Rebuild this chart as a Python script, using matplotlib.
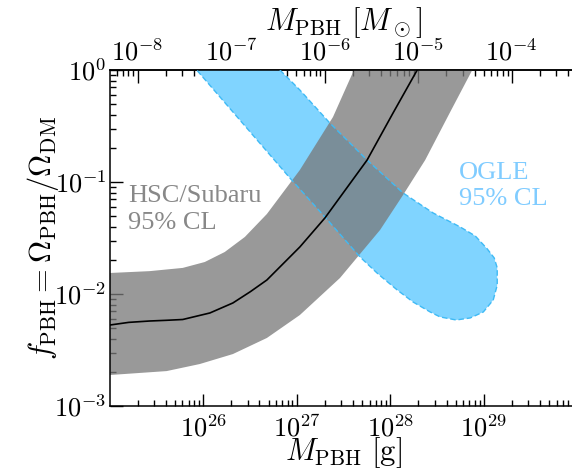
import matplotlib
matplotlib.use("Agg")
import matplotlib.pyplot as plt
import matplotlib.ticker as mticker
import numpy as np

plt.rcParams["mathtext.fontset"] = "cm"
plt.rcParams["font.family"] = "serif"
plt.rcParams["font.serif"] = ["Liberation Serif", "DejaVu Serif"]

MSUN_G = 1.989e33  # grams per solar mass

# HSC/Subaru 95% CL: central curve and the two edges of the band
hsc_mid_mass = [1.00e25, 1.60e25, 2.68e25, 4.00e25, 6.05e25, 1.18e26, 2.08e26,
                3.20e26, 4.80e26, 1.08e27, 2.00e27, 5.65e27, 1.07e28, 1.94e28]
hsc_mid_f = [0.00528, 0.00558, 0.00574, 0.00582, 0.00592, 0.00677, 0.00832,
             0.0105, 0.01334, 0.0263, 0.0477, 0.157, 0.413, 1.0]

hsc_up_mass = [1.00e25, 2.68e25, 6.05e25, 1.04e26, 1.70e26, 2.79e26, 4.80e26,
               1.08e27, 2.44e27, 4.09e27]
hsc_up_f = [0.0154, 0.0160, 0.0171, 0.0193, 0.0237, 0.0323, 0.0518,
            0.128, 0.380, 1.0]

hsc_lo_mass = [1.00e25, 4.07e25, 9.20e25, 2.08e26, 4.80e26, 1.08e27, 2.90e27,
               7.78e27, 1.37e28, 2.36e28, 4.37e28, 7.52e28]
hsc_lo_f = [0.00189, 0.00205, 0.00237, 0.00291, 0.00405, 0.00649, 0.0139,
            0.0373, 0.0766, 0.157, 0.422, 1.0]

# OGLE 95% CL: closed outline, upper edge -> end cap -> lower edge
ogle_mass = [6.61e26, 1.08e27, 2.26e27, 5.65e27, 1.37e28, 2.87e28, 5.58e28,
             8.09e28, 1.09e29, 1.29e29, 1.39e29, 1.39e29, 1.26e29, 9.87e28,
             7.15e28, 5.06e28, 3.41e28, 2.67e28, 1.75e28, 1.18e28, 7.40e27,
             4.75e27, 2.00e27, 8.45e26, 8.53e25]
ogle_f = [1.0, 0.663, 0.336, 0.157, 0.0798, 0.0529, 0.0397,
          0.0330, 0.0252, 0.0210, 0.0171, 0.0120, 0.00884, 0.00691,
          0.00611, 0.00586, 0.00624, 0.00691, 0.00849, 0.0109, 0.0151,
          0.0214, 0.0487, 0.1086, 1.0]

x_range = (1.01e25, 0.99e30)
y_range = (1e-3, 1.0)

fig = plt.figure(figsize=(5.72, 4.76), dpi=100)
ax = fig.add_axes([110 / 572, 70 / 476, 467 / 572, 336 / 476])
ax.set_xscale("log")
ax.set_yscale("log")
ax.set_xlim(*x_range)
ax.set_ylim(*y_range)

ax.fill(ogle_mass, ogle_f, color="#80d4ff", lw=0, zorder=1)
band_m = np.concatenate([hsc_up_mass, hsc_lo_mass[::-1]])
band_f = np.concatenate([hsc_up_f, hsc_lo_f[::-1]])
ax.fill(band_m, band_f, color="#797979", alpha=0.76, lw=0, zorder=2)
ax.plot(ogle_mass, ogle_f, ls=(0, (4, 2)), color="#3fbaf5", lw=1.0, zorder=3)
ax.plot(hsc_mid_mass, hsc_mid_f, color="k", lw=1.2, zorder=4)

ax.text(0.038, 0.585, "HSC/Subaru\n95% CL", transform=ax.transAxes,
        fontsize=19, color="#888888", va="center", ha="left", linespacing=1.25)
ax.text(0.747, 0.655, "OGLE\n95% CL", transform=ax.transAxes,
        fontsize=19, color="#80ccff", va="center", ha="left", linespacing=1.25)


def pow10(v, _):
    return rf"$10^{{{int(round(np.log10(v)))}}}$"


for axis in (ax.xaxis, ax.yaxis):
    axis.set_major_locator(mticker.LogLocator(numticks=20))
    axis.set_minor_locator(mticker.LogLocator(subs=np.arange(2, 10), numticks=20))
    axis.set_major_formatter(mticker.FuncFormatter(pow10))
    axis.set_minor_formatter(mticker.NullFormatter())

ax.tick_params(which="both", direction="in", top=False, right=False,
               labelsize=19, width=1.0)
ax.tick_params(which="major", length=9)
ax.tick_params(which="minor", length=4.5)
ax.tick_params(axis="x", pad=6)
ax.tick_params(axis="y", pad=2.5)
for sp in ax.spines.values():
    sp.set_linewidth(1.1)

secax = ax.secondary_xaxis("top", functions=(lambda m: m / MSUN_G,
                                              lambda m: m * MSUN_G))
secax.xaxis.set_major_locator(mticker.LogLocator(numticks=20))
secax.xaxis.set_minor_locator(mticker.LogLocator(subs=np.arange(2, 10), numticks=20))
secax.xaxis.set_major_formatter(mticker.FuncFormatter(pow10))
secax.xaxis.set_minor_formatter(mticker.NullFormatter())
secax.tick_params(which="both", direction="in", labelsize=19, width=1.0)
secax.tick_params(which="major", length=9)
secax.tick_params(which="minor", length=4.5)
secax.spines["top"].set_linewidth(1.1)
secax.set_xlabel(r"$M_{\rm PBH}\ [M_\odot]$", fontsize=22, labelpad=6)

ax.set_xlabel(r"$M_{\rm PBH}\ [{\rm g}]$", fontsize=22, labelpad=-4)
ax.set_ylabel(r"$f_{\rm PBH} = \Omega_{\rm PBH}/\Omega_{\rm DM}$", fontsize=22,
              labelpad=-5)

fig.savefig("out.png", dpi=100)
